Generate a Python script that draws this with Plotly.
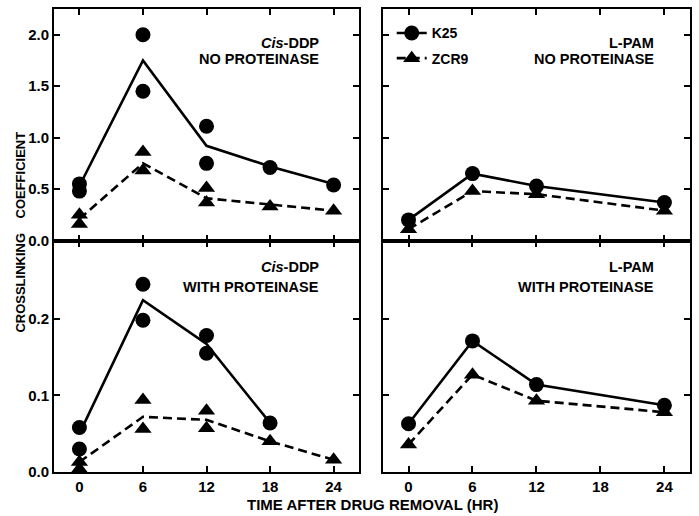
import plotly.graph_objects as go

# ---------------- data ----------------
times = [0, 6, 12, 18, 24]
times_lpam = [0, 6, 12, 24]

# Cis-DDP, no proteinase
cis_np_k25_x = [0, 0, 6, 6, 12, 12, 18, 24]
cis_np_k25_y = [0.55, 0.48, 2.00, 1.45, 1.11, 0.75, 0.71, 0.54]
cis_np_k25_mean = [0.53, 1.75, 0.92, 0.72, 0.55]
cis_np_zcr9_x = [0, 0, 6, 6, 12, 12, 18, 24]
cis_np_zcr9_y = [0.25, 0.16, 0.86, 0.68, 0.51, 0.37, 0.33, 0.29]
cis_np_zcr9_mean = [0.21, 0.75, 0.41, 0.35, 0.29]

# L-PAM, no proteinase
lpam_np_k25 = [0.20, 0.65, 0.53, 0.37]
lpam_np_zcr9 = [0.11, 0.48, 0.45, 0.29]

# Cis-DDP, with proteinase
cis_wp_k25_x = [0, 0, 6, 6, 12, 12, 18]
cis_wp_k25_y = [0.058, 0.030, 0.245, 0.198, 0.178, 0.155, 0.064]
cis_wp_k25_mean_x = [0, 6, 12, 18]
cis_wp_k25_mean = [0.050, 0.224, 0.167, 0.064]
cis_wp_zcr9_x = [0, 0, 6, 6, 12, 12, 18, 24]
cis_wp_zcr9_y = [0.013, 0.004, 0.094, 0.056, 0.080, 0.057, 0.040, 0.016]
cis_wp_zcr9_mean = [0.013, 0.072, 0.068, 0.040, 0.016]

# L-PAM, with proteinase
lpam_wp_k25 = [0.063, 0.171, 0.114, 0.087]
lpam_wp_zcr9 = [0.036, 0.127, 0.093, 0.078]

x_ticks = [0, 6, 12, 18, 24]
y_ticks_top = [0.0, 0.5, 1.0, 1.5, 2.0]
y_ticks_bot = [0.0, 0.1, 0.2]

# ---------------- style ----------------
FONT = "Liberation Sans, Arial, sans-serif"
CIRCLE = dict(symbol="circle", size=15, color="black")
TRI = dict(symbol="triangle-up", size=15, color="black")
SOLID = dict(color="black", width=2.6)
DASH = dict(color="black", width=2.6, dash="9px,5px")

fig = go.Figure()


def add_points(x, y, marker, xa, ya):
    fig.add_trace(go.Scatter(x=x, y=y, mode="markers", marker=marker,
                             xaxis=xa, yaxis=ya, showlegend=False,
                             cliponaxis=False, hoverinfo="x+y"))


def add_line(x, y, line, xa, ya, marker=None):
    mode = "lines+markers" if marker else "lines"
    fig.add_trace(go.Scatter(x=x, y=y, mode=mode, line=line, marker=marker,
                             xaxis=xa, yaxis=ya, showlegend=False,
                             cliponaxis=False, hoverinfo="x+y"))


# Panel 1: Cis-DDP no proteinase
add_line(times, cis_np_k25_mean, SOLID, "x", "y")
add_line(times, cis_np_zcr9_mean, DASH, "x", "y")
add_points(cis_np_k25_x, cis_np_k25_y, CIRCLE, "x", "y")
add_points(cis_np_zcr9_x, cis_np_zcr9_y, TRI, "x", "y")

# Panel 2: L-PAM no proteinase
add_line(times_lpam, lpam_np_zcr9, DASH, "x2", "y2", TRI)
add_line(times_lpam, lpam_np_k25, SOLID, "x2", "y2", CIRCLE)

# Panel 3: Cis-DDP with proteinase
add_line(cis_wp_k25_mean_x, cis_wp_k25_mean, SOLID, "x3", "y3")
add_line(times, cis_wp_zcr9_mean, DASH, "x3", "y3")
add_points(cis_wp_k25_x, cis_wp_k25_y, CIRCLE, "x3", "y3")
add_points(cis_wp_zcr9_x, cis_wp_zcr9_y, TRI, "x3", "y3")

# Panel 4: L-PAM with proteinase
add_line(times_lpam, lpam_wp_zcr9, DASH, "x4", "y4", TRI)
add_line(times_lpam, lpam_wp_k25, SOLID, "x4", "y4", CIRCLE)

# legend entries
fig.add_trace(go.Scatter(x=[None], y=[None], mode="lines+markers", name="K25",
                         line=SOLID, marker=CIRCLE, xaxis="x2", yaxis="y2",
                         legendgroup="a"))
fig.add_trace(go.Scatter(x=[None], y=[None], mode="lines+markers", name="ZCR9",
                         line=DASH, marker=TRI, xaxis="x2", yaxis="y2",
                         legendgroup="b"))

LEFT_DOM = [0, 0.4796]
RIGHT_DOM = [0.5172, 1]
TOP_DOM = [0.5, 1]
BOT_DOM = [0, 0.5]
XR = [-2.4, 26.4]

common = dict(showline=True, linewidth=2, linecolor="black", mirror="allticks",
              ticks="inside", ticklen=6, tickwidth=1.5, tickcolor="black",
              showgrid=False, zeroline=False,
              tickfont=dict(family=FONT, size=15, color="black", weight="bold"))

fig.update_layout(
    width=699, height=516,
    margin=dict(l=54, r=7, t=8, b=44),
    paper_bgcolor="white", plot_bgcolor="white",
    xaxis=dict(domain=LEFT_DOM, anchor="y", range=XR, tickvals=x_ticks,
               showticklabels=False, **common),
    xaxis2=dict(domain=RIGHT_DOM, anchor="y2", range=XR, tickvals=x_ticks,
                showticklabels=False, **common),
    xaxis3=dict(domain=LEFT_DOM, anchor="y3", range=XR, tickvals=x_ticks,
                **common),
    xaxis4=dict(domain=RIGHT_DOM, anchor="y4", range=XR, tickvals=x_ticks,
                **common),
    yaxis=dict(domain=TOP_DOM, anchor="x", range=[0, 2.25],
               tickvals=y_ticks_top, tickformat=".1f", **common),
    yaxis2=dict(domain=TOP_DOM, anchor="x2", range=[0, 2.25],
                tickvals=y_ticks_top, showticklabels=False, **common),
    yaxis3=dict(domain=BOT_DOM, anchor="x3", range=[0, 0.302],
                tickvals=y_ticks_bot, tickformat=".1f", **common),
    yaxis4=dict(domain=BOT_DOM, anchor="x4", range=[0, 0.302],
                tickvals=y_ticks_bot, showticklabels=False, **common),
    showlegend=True,
    legend=dict(x=0.531, y=0.982, xanchor="left", yanchor="top",
                bgcolor="rgba(0,0,0,0)", borderwidth=0,
                traceorder="grouped", tracegroupgap=4,
                font=dict(family=FONT, size=14, color="black", weight="bold")),
)

AFONT = dict(family=FONT, size=14.5, color="black", weight="bold")


def label(text, xref, yref, x, y):
    fig.add_annotation(text=text, xref=xref, yref=yref, x=x, y=y,
                       xanchor="right", yanchor="middle", showarrow=False,
                       font=AFONT)


label("<i>Cis</i>-DDP", "x domain", "y domain", 0.876, 0.853)
label("NO PROTEINASE", "x domain", "y domain", 0.876, 0.784)
label("L-PAM", "x2 domain", "y2 domain", 0.89, 0.853)
label("NO PROTEINASE", "x2 domain", "y2 domain", 0.89, 0.784)
label("<i>Cis</i>-DDP", "x3 domain", "y3 domain", 0.876, 0.884)
label("WITH PROTEINASE", "x3 domain", "y3 domain", 0.876, 0.797)
label("L-PAM", "x4 domain", "y4 domain", 0.89, 0.884)
label("WITH PROTEINASE", "x4 domain", "y4 domain", 0.89, 0.797)

# axis titles
fig.add_annotation(text="TIME AFTER DRUG REMOVAL (HR)", xref="paper", yref="paper",
                   x=(373 - 54) / 638, y=(472 - 505) / 464, xanchor="center",
                   yanchor="middle", showarrow=False,
                   font=dict(family=FONT, size=15, color="black", weight="bold"))
fig.add_annotation(text="CROSSLINKING" + "\u00a0" * 4 + "COEFFICIENT",
                   xref="paper", yref="paper", x=(20 - 54) / 638,
                   y=(472 - 232) / 464, xanchor="center", yanchor="middle",
                   textangle=-90, showarrow=False,
                   font=dict(family=FONT, size=13, color="black", weight="bold"))

fig.write_html(
    "out.html",
    config={"displayModeBar": False},
    post_script="document.body.style.margin='0';document.body.style.padding='0';",
)
